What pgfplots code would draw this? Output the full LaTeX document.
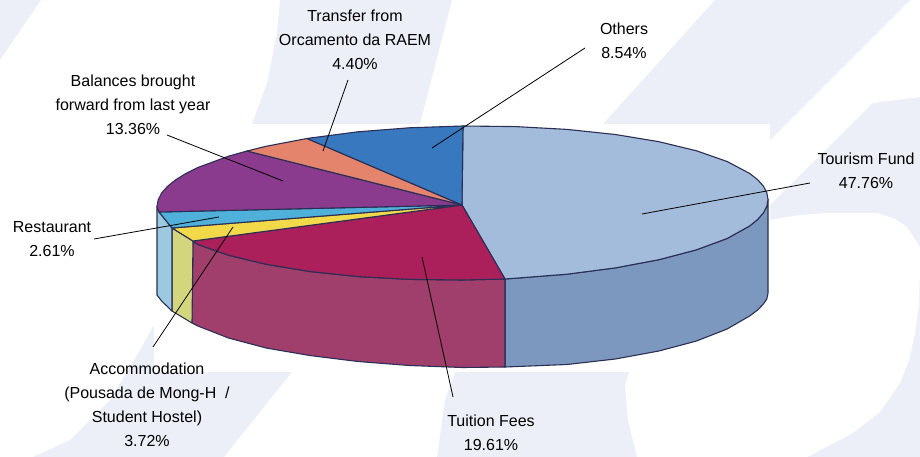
\documentclass[border=0pt]{standalone}
\usepackage{fontspec}
\setmainfont{Liberation Sans}
\usepackage{pgfplots}
\pgfplotsset{compat=1.18}
\definecolor{pale}{HTML}{ECEFF7}
\definecolor{rim}{HTML}{2B2F55}
\definecolor{tourT}{HTML}{A3BCDC}\definecolor{tourS}{HTML}{7D98BF}
\definecolor{tuitT}{HTML}{AB1F5B}\definecolor{tuitS}{HTML}{A03E6C}
\definecolor{yelT}{HTML}{F1D94A}\definecolor{yelS}{HTML}{D4D67E}
\definecolor{cyaT}{HTML}{4FB0D9}\definecolor{cyaS}{HTML}{9CC8E0}
\definecolor{purT}{HTML}{8B3B8E}
\definecolor{salT}{HTML}{E5846C}
\definecolor{bluT}{HTML}{3778BF}
\tikzset{
  lbl/.style={font=\fontsize{16}{24}\selectfont,align=center,text=black,anchor=center,inner sep=0pt},
  bg/.style={fill=pale,draw=none},
  wh/.style={fill=white,draw=none},
  face/.style={line width=1.1pt,draw=rim,line join=round},
  lead/.style={black,line width=0.8pt},
}
\begin{document}
\begin{tikzpicture}
\begin{axis}[
  width=920pt,height=457pt,scale only axis,hide axis,
  xmin=0,xmax=920,ymin=0,ymax=457,y dir=reverse,
  clip=true,
]
% background shapes
\addplot[bg] coordinates {(0,0)(41,0)(0,60)} --cycle;
\addplot[bg] coordinates {(280,0)(277,33)(267,83)(252,124)(420,124)(452,0)} --cycle;
\addplot[bg] coordinates {(33,457)(70,440)(110,400)(140,350)(154,325)(154,372)(292,372)(224,457)} --cycle;
\addplot[bg] coordinates {(715,0)(910,0)(770,140)(770,124)(603,124)} --cycle;
\addplot[bg] coordinates {(770,205)(873,103)(920,97)(920,457)(437,457)(445,400)(455,372)(770,372)} --cycle;
\addplot[wh] coordinates {(770,220)(800,215)(827,213)(877,213)(895,219)(907,227)(920,247)(920,270)(919,305)(915,333)(909,360)(900,383)(880,412)(853,433)(807,457)(637,457)(628,420)(625,385)(640,340)(770,300)} --cycle;
\addplot[wh] coordinates {(154,124)(770,124)(770,372)(154,372)} --cycle;
% side faces
\addplot[face,fill=tourS] coordinates {(505,279)(515.6,278.2)(567,274.2)(615.3,267.9)(658.9,259.7)(696.5,249.8)(727.1,238.5)(749.6,226)(757.6,219.5)(763.4,212.9)(766.8,206.2)(768,199.5)(768,293)(766.8,299)(763.4,304)(757.6,310)(749.6,316)(727.1,329)(696.5,341)(658.9,351)(615.3,359)(567,364.5)(505,367)} --cycle;
\addplot[face,fill=tuitS] coordinates {(505,279)(462.5,280)(409.4,279.4)(358,276.6)(309.7,271.5)(266.1,264.3)(228.5,255.2)(197.9,244.5)(193,241)(192,323)(197.9,326)(228.5,338)(266.1,348)(309.7,355.5)(358,361.5)(409.4,365.5)(462.5,367.5)(505,367)} --cycle;
\addplot[face,fill=yelS] coordinates {(193,241)(172,228)(172,311)(192,323)} --cycle;
\addplot[face,fill=cyaS] coordinates {(172,228)(159,212)(157,206.5)(157,295)(161.6,301)(172,311)} --cycle;
% top faces
\addplot[face,fill=tourT] coordinates {(462,205)(463,126)(515.6,126.6)(567,129.4)(615.3,134.5)(658.9,141.7)(696.5,150.8)(727.1,161.5)(749.6,173.4)(757.6,179.7)(763.4,186.1)(766.8,192.8)(768,199.5)(766.8,206.2)(763.4,212.9)(757.6,219.5)(749.6,226)(727.1,238.5)(696.5,249.8)(658.9,259.7)(615.3,267.9)(567,274.2)(515.6,278.2)(505,279)} --cycle;
\addplot[face,fill=tuitT] coordinates {(462,205)(505,279)(462.5,280)(409.4,279.4)(358,276.6)(309.7,271.5)(266.1,264.3)(228.5,255.2)(197.9,244.5)(193,241)} --cycle;
\addplot[face,fill=yelT] coordinates {(462,205)(193,241)(172,228)} --cycle;
\addplot[face,fill=cyaT] coordinates {(462,205)(172,228)(159,212)} --cycle;
\addplot[face,fill=purT] coordinates {(462,205)(159,212)(157,206.5)(158.2,199.8)(161.6,193.1)(167.4,186.5)(175.4,180)(185.7,173.6)(197.9,167.5)(228.5,156.2)(247,151)} --cycle;
\addplot[face,fill=salT] coordinates {(462,205)(247,151)(266.1,146.3)(307,138.5)} --cycle;
\addplot[face,fill=bluT] coordinates {(462,205)(307,138.5)(309.7,138.1)(358,131.8)(409.4,127.8)(463,126)} --cycle;
% leaders
\addplot[lead] coordinates {(585,48)(432,148)};
\addplot[lead] coordinates {(348,80)(323,151)};
\addplot[lead] coordinates {(167,135)(283,181)};
\addplot[lead] coordinates {(94,239)(219,217)};
\addplot[lead] coordinates {(153,347)(233,227)};
\addplot[lead] coordinates {(453,397)(422,257)};
\addplot[lead] coordinates {(810,183)(642,214)};
% labels
\node[lbl] at (axis cs:355,40) {Transfer from\\Orcamento da RAEM\\4.40\%};
\node[lbl] at (axis cs:133,105) {Balances brought\\forward from last year\\13.36\%};
\node[lbl] at (axis cs:52,239) {Restaurant\\2.61\%};
\node[lbl] at (axis cs:147,405) {Accommodation\\(Pousada de Mong-H\ \ /\\Student Hostel)\\3.72\%};
\node[lbl] at (axis cs:491,433) {Tuition Fees\\19.61\%};
\node[lbl] at (axis cs:866,170.5) {Tourism Fund\\47.76\%};
\node[lbl] at (axis cs:624,41) {Others\\8.54\%};
\end{axis}
\end{tikzpicture}
\end{document}
